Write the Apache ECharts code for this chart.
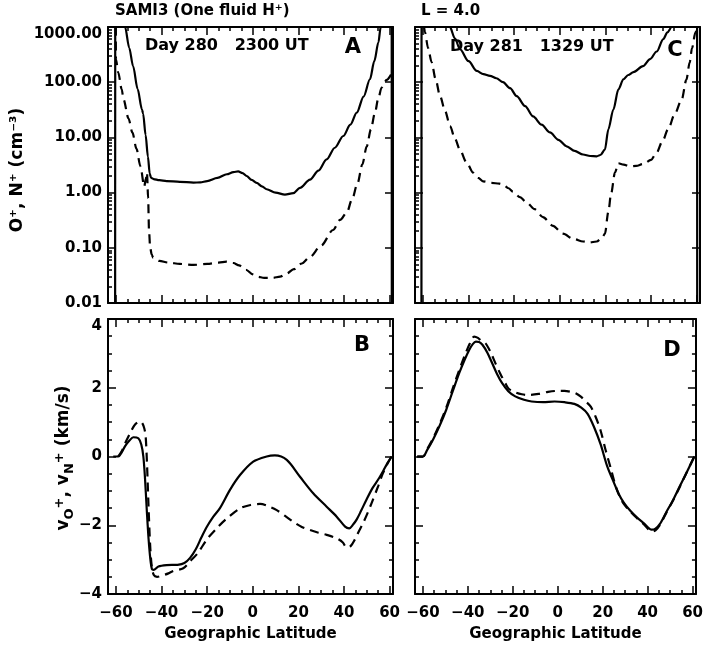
<!DOCTYPE html>
<html>
<head>
<meta charset="utf-8">
<script src="https://cdn.jsdelivr.net/npm/echarts@6/dist/echarts.min.js"></script>
<style>
  html, body { margin: 0; padding: 0; background: #fff; }
  #chart { width: 706px; height: 648px; }
</style>
</head>
<body>
<div id="chart"></div>
<script>
// [latitude, value] samples
// A: densities, day 280 (solid O+, dashed N+)
const densA_O = [[-60.4, 1e-6], [-60.3, 1e6], [-56.0, 1000], [-54.2, 420], [-52.5, 196], [-50.5, 75], [-48.6, 32], [-48.1, 27],
  [-47.0, 11], [-46.0, 4.5], [-45.2, 2.2], [-44.6, 1.85], [-43.5, 1.76], [-41.0, 1.68], [-37.8, 1.62], [-32.0, 1.57],
  [-26.0, 1.52], [-23.0, 1.53], [-20.0, 1.62], [-15.5, 1.85], [-11.4, 2.15], [-8.5, 2.35], [-6.4, 2.42], [-4.5, 2.25],
  [-2.7, 2.0], [-0.5, 1.7], [1.7, 1.5], [4.0, 1.3], [6.1, 1.15], [10.0, 1.0], [14.1, 0.92], [17.8, 0.98], [20.7, 1.22],
  [25.1, 1.72], [28.8, 2.5], [32.4, 4.0], [36.0, 6.5], [39.7, 10.6], [42.8, 17], [45.6, 28], [48.6, 55], [51.4, 113],
  [53.3, 240], [55.1, 525], [56.1, 1000], [60.9, 1e6], [61.0, 1e-6]];
const densA_N = [[-60.4, 1e6], [-60.0, 260], [-59.0, 150], [-57.5, 75], [-56.7, 49], [-54.5, 22], [-52.8, 12.3], [-51.0, 6.2],
  [-49.3, 3.0], [-47.6, 1.29], [-46.9, 1.8], [-46.4, 2.3], [-45.9, 0.8], [-45.5, 0.2], [-45.0, 0.1], [-44.3, 0.075],
  [-43.7, 0.066], [-41.0, 0.058], [-37.0, 0.054], [-32.0, 0.051], [-26.0, 0.049], [-20.0, 0.051], [-15.0, 0.054],
  [-11.5, 0.056], [-8.5, 0.053], [-6.0, 0.048], [-3.0, 0.040], [0.0, 0.033], [2.0, 0.030], [5.0, 0.0285], [8.7, 0.0285],
  [12.0, 0.030], [14.8, 0.034], [18.0, 0.041], [21.5, 0.052], [25.0, 0.068], [30.0, 0.11], [35.2, 0.21], [38.3, 0.32],
  [41.3, 0.44], [43.5, 0.75], [46.0, 1.5], [48.0, 3.2], [50.0, 6.9], [51.8, 14], [53.6, 28], [55.0, 50], [56.5, 80],
  [58.7, 110], [61.5, 160]];
// C: densities, day 281
const densC_O = [[-60.7, 1e-6], [-60.6, 1e6], [-48.2, 1000], [-46.0, 620], [-43.8, 398], [-40.0, 240], [-36.4, 160],
  [-33.5, 140], [-30.6, 130], [-27.8, 118], [-24.9, 100], [-21.8, 78], [-18.9, 56], [-15.2, 37], [-11.7, 24], [-8.0, 17],
  [-4.3, 12.3], [-0.6, 9.0], [3.0, 6.9], [6.5, 5.7], [10.2, 4.9], [13.3, 4.6], [16.2, 4.55], [17.8, 4.8], [19.8, 6.0],
  [21.3, 14], [23.5, 32], [25.7, 74], [27.9, 113], [30.0, 135], [32.3, 152], [36.5, 195], [39.6, 262], [42.5, 360],
  [45.4, 605], [47.2, 800], [49.1, 1000], [60.2, 1e6], [60.3, 1e-6]];
const densC_N = [[-60.2, 2000], [-59.1, 800], [-57.8, 420], [-56.2, 230], [-54.5, 115], [-52.5, 56], [-50.3, 30], [-48.1, 16],
  [-46.0, 9.5], [-43.8, 6.0], [-41.0, 3.6], [-38.0, 2.3], [-35.8, 1.85], [-33.7, 1.6], [-30.0, 1.5], [-26.5, 1.45],
  [-24.9, 1.4], [-22.5, 1.2], [-20.5, 1.04], [-17.5, 0.83], [-14.5, 0.66], [-11.0, 0.5], [-7.4, 0.36], [-3.0, 0.25],
  [1.4, 0.18], [6.0, 0.145], [10.2, 0.13], [13.0, 0.125], [16.2, 0.13], [18.5, 0.15], [19.8, 0.18], [21.3, 0.45],
  [22.5, 0.95], [24.2, 2.3], [25.7, 3.4], [28.0, 3.2], [30.8, 3.0], [33.5, 3.05], [36.6, 3.3], [40.0, 3.9], [42.5, 5.3],
  [45.0, 8.5], [47.5, 14], [50.5, 27], [53.5, 49], [55.5, 110], [57.0, 230], [58.0, 415], [59.5, 800], [61.3, 1500]];
// B: field-aligned velocities, day 280
const velB_O = [[-61.2, 0], [-59.0, 0], [-57.5, 0.12], [-56.0, 0.3], [-54.0, 0.47], [-52.4, 0.56], [-50.2, 0.53], [-48.9, 0.35],
  [-48.0, 0.0], [-47.3, -0.6], [-46.5, -1.55], [-45.7, -2.4], [-44.9, -3.0], [-44.2, -3.28], [-43.5, -3.3], [-41.4, -3.2],
  [-37.8, -3.16], [-33.0, -3.15], [-30.0, -3.1], [-27.5, -2.95], [-25.0, -2.7], [-22.5, -2.35], [-20.2, -2.05],
  [-17.3, -1.75], [-14.4, -1.5], [-10.0, -0.97], [-5.6, -0.54], [0.2, -0.15], [6.1, 0.0], [9.7, 0.03], [14.9, -0.1],
  [20.7, -0.59], [26.5, -1.07], [32.4, -1.46], [36.8, -1.75], [40.5, -2.04], [42.3, -2.09], [44.0, -1.98], [45.6, -1.83],
  [47.5, -1.58], [49.9, -1.25], [52.5, -0.92], [55.0, -0.67], [57.2, -0.42], [59.0, -0.2], [60.9, 0.0]];
const velB_N = [[-59.0, 0], [-57.5, 0.15], [-56.0, 0.38], [-54.0, 0.65], [-52.0, 0.9], [-50.5, 1.0], [-49.3, 1.02], [-48.3, 0.95],
  [-47.6, 0.82], [-47.0, 0.6], [-46.4, -0.2], [-45.7, -1.5], [-45.0, -2.6], [-44.3, -3.2], [-43.4, -3.45], [-42.0, -3.5],
  [-40.0, -3.47], [-37.0, -3.4], [-34.9, -3.33], [-30.5, -3.25], [-27.5, -3.05], [-24.0, -2.8], [-20.0, -2.4],
  [-16.0, -2.1], [-12.2, -1.85], [-5.6, -1.51], [-1.0, -1.41], [3.2, -1.38], [7.0, -1.45], [10.5, -1.56], [14.0, -1.72],
  [17.8, -1.9], [21.5, -2.05], [25.1, -2.14], [28.8, -2.22], [32.4, -2.28], [36.8, -2.38], [39.5, -2.5], [41.2, -2.65],
  [43.0, -2.6], [44.8, -2.41], [46.5, -2.18], [48.5, -1.92], [50.5, -1.62], [52.2, -1.34], [55.0, -0.86], [57.0, -0.5],
  [59.0, -0.22], [60.9, 0.0]];
// D: field-aligned velocities, day 281
const velD_O = [[-62.5, 0], [-60.0, 0], [-58.0, 0.2], [-55.5, 0.49], [-52.5, 0.9], [-49.6, 1.36], [-46.7, 1.9], [-43.8, 2.43],
  [-41.5, 2.8], [-39.4, 3.1], [-37.8, 3.27], [-36.4, 3.34], [-35.0, 3.33], [-33.5, 3.25], [-31.3, 3.02], [-29.2, 2.72],
  [-27.0, 2.4], [-24.8, 2.14], [-22.0, 1.9], [-18.9, 1.75], [-15.0, 1.65], [-11.6, 1.6], [-6.5, 1.58], [-1.4, 1.6],
  [3.0, 1.58], [7.4, 1.53], [10.5, 1.42], [13.3, 1.24], [16.2, 0.85], [19.1, 0.35], [22.0, -0.28], [25.0, -0.76],
  [27.2, -1.1], [29.4, -1.34], [32.3, -1.58], [35.2, -1.77], [38.5, -1.95], [41.8, -2.13], [43.5, -2.1], [45.4, -1.97],
  [48.3, -1.62], [51.3, -1.27], [54.2, -0.88], [57.1, -0.5], [60.8, 0.0]];
const velD_N = [[-62.5, 0], [-60.0, 0], [-58.0, 0.22], [-55.5, 0.52], [-52.5, 0.95], [-49.6, 1.42], [-46.7, 1.98], [-43.8, 2.52],
  [-41.0, 3.0], [-39.0, 3.3], [-37.2, 3.49], [-35.5, 3.45], [-34.0, 3.36], [-32.1, 3.29], [-30.0, 3.05], [-27.7, 2.71],
  [-25.5, 2.4], [-23.3, 2.13], [-21.8, 1.97], [-19.0, 1.87], [-16.0, 1.81], [-13.1, 1.79], [-8.5, 1.82], [-4.3, 1.88],
  [0.0, 1.91], [3.0, 1.91], [6.0, 1.88], [8.0, 1.84], [10.3, 1.74], [12.5, 1.6], [14.7, 1.45], [16.9, 1.15], [19.1, 0.75],
  [21.3, 0.19], [23.5, -0.32], [25.5, -0.8], [27.5, -1.15], [29.4, -1.38], [32.3, -1.6], [35.2, -1.79], [38.5, -1.98],
  [41.8, -2.18], [43.5, -2.15], [45.4, -2.0], [48.3, -1.64], [51.3, -1.28], [54.2, -0.9], [57.1, -0.5], [60.8, 0.0]];

const latTicks = [-60, -40, -20, 0, 20, 40, 60];
const latMinorTicks = [-60, -55, -50, -45, -40, -35, -30, -25, -20, -15, -10, -5, 0, 5, 10, 15, 20, 25, 30, 35, 40, 45, 50, 55, 60];
const densDecades = [0.01, 0.1, 1, 10, 100];
const densMinorTicks = [];
densDecades.forEach(d => { for (let k = 2; k <= 9; k++) densMinorTicks.push(Math.log10(d * k)); });

const FONT = 'DejaVu Sans';
const INK = '#000';
const latMin = -63.5, latMax = 61.5;

const axisInk = { color: INK, width: 2 };
const tickInk = { color: INK, width: 1.5 };
const labelFont = { color: INK, fontFamily: FONT, fontSize: 15, fontWeight: 'bold' };
const signed = v => (v < 0 ? '\u2212' + Math.abs(v) : String(v));

function latAxes(gi, labelled) {
  const common = { gridIndex: gi, type: 'value', min: latMin, max: latMax, splitLine: { show: false } };
  const major = { show: true, customValues: latTicks, inside: true, length: 8, lineStyle: tickInk };
  const minor = { show: true, customValues: latMinorTicks, inside: true, length: 4, lineStyle: tickInk };
  return [
    Object.assign({}, common, {
      position: 'bottom',
      axisLine: { show: true, onZero: false, lineStyle: axisInk },
      axisTick: major,
      axisLabel: labelled ? Object.assign({ customValues: latTicks, margin: 12, formatter: signed }, labelFont) : { show: false },
      name: labelled ? 'Geographic Latitude' : '',
      nameLocation: 'middle',
      nameGap: 33,
      nameTextStyle: labelFont
    }),
    Object.assign({}, common, { position: 'bottom', axisLine: { show: false, onZero: false }, axisTick: minor, axisLabel: { show: false } }),
    Object.assign({}, common, { position: 'top', axisLine: { show: true, onZero: false, lineStyle: axisInk }, axisTick: major, axisLabel: { show: false } }),
    Object.assign({}, common, { position: 'top', axisLine: { show: false, onZero: false }, axisTick: minor, axisLabel: { show: false } })
  ];
}

function densAxes(gi, labelled) {
  const common = { gridIndex: gi, splitLine: { show: false } };
  return [
    Object.assign({}, common, {
      type: 'log', logBase: 10, min: 0.01, max: 1000, position: 'left',
      axisLine: { show: true, onZero: false, lineStyle: axisInk },
      axisTick: { show: true, inside: true, length: 8, lineStyle: tickInk },
      axisLabel: labelled ? Object.assign({
        margin: 6, formatter: v => Number(v).toFixed(2),
        showMinLabel: true, showMaxLabel: true, verticalAlignMaxLabel: 'top'
      }, labelFont) : { show: false }
    }),
    Object.assign({}, common, {
      type: 'value', min: -2, max: 3, position: 'left',
      axisLine: { show: false, onZero: false },
      axisTick: { show: true, customValues: densMinorTicks, inside: true, length: 4, lineStyle: tickInk },
      axisLabel: { show: false }
    }),
    Object.assign({}, common, {
      type: 'log', logBase: 10, min: 0.01, max: 1000, position: 'right',
      axisLine: { show: true, onZero: false, lineStyle: axisInk },
      axisTick: { show: true, inside: true, length: 8, lineStyle: tickInk },
      axisLabel: { show: false }
    })
  ];
}

function speedAxes(gi, labelled) {
  const common = {
    gridIndex: gi, type: 'value', min: -4, max: 4, interval: 2, splitLine: { show: false },
    axisTick: { show: true, inside: true, length: 8, lineStyle: tickInk },
    minorTick: { show: true, splitNumber: 4, length: 4, lineStyle: tickInk }
  };
  return [
    Object.assign({}, common, {
      position: 'left',
      axisLine: { show: true, onZero: false, lineStyle: axisInk },
      axisLabel: labelled ? Object.assign({
        margin: 6, formatter: signed, showMinLabel: true, showMaxLabel: true,
        verticalAlignMaxLabel: 'top'
      }, labelFont) : { show: false }
    }),
    Object.assign({}, common, {
      position: 'right',
      axisLine: { show: true, onZero: false, lineStyle: axisInk },
      axisLabel: { show: false }
    })
  ];
}

// top panels have near-vertical drops, so keep the smoothing monotone in x there
function curve(xi, yi, data, dashed, monotone) {
  return {
    type: 'line', xAxisIndex: xi, yAxisIndex: yi, data: data,
    symbol: 'none', smooth: 0.3, smoothMonotone: monotone ? 'x' : null, clip: true, silent: true,
    lineStyle: { color: INK, width: 2.2, type: dashed ? [9, 6] : 'solid' }
  };
}

const txt = (size, weight) => ({ fill: INK, fontFamily: FONT, fontSize: size, fontWeight: weight || 'bold', verticalAlign: 'middle' });

const chart = echarts.init(document.getElementById('chart'));
chart.setOption({
  animation: false,
  backgroundColor: '#fff',
  textStyle: { fontFamily: FONT },
  grid: [
    { left: 108, top: 27, width: 285, height: 276 },
    { left: 415, top: 27, width: 285, height: 276 },
    { left: 108, top: 319, width: 285, height: 275 },
    { left: 415, top: 319, width: 285, height: 275 }
  ],
  xAxis: [].concat(latAxes(0, false), latAxes(1, false), latAxes(2, true), latAxes(3, true)),
  yAxis: [].concat(densAxes(0, true), densAxes(1, false), speedAxes(2, true), speedAxes(3, false)),
  series: [
    curve(0, 0, densA_O, false, true), curve(0, 0, densA_N, true, true),
    curve(4, 3, densC_O, false, true), curve(4, 3, densC_N, true, true),
    curve(8, 6, velB_O, false, false), curve(8, 6, velB_N, true, false),
    curve(12, 8, velD_O, false, false), curve(12, 8, velD_N, true, false)
  ],
  graphic: [
    { type: 'text', x: 115, y: 11, style: Object.assign(txt(15), { text: 'SAMI3 (One fluid H\u207A)', align: 'left' }) },
    { type: 'text', x: 421, y: 11, style: Object.assign(txt(15), { text: 'L = 4.0', align: 'left' }) },
    { type: 'text', x: 145, y: 46, style: Object.assign(txt(16), { text: 'Day 280   2300 UT', align: 'left' }) },
    { type: 'text', x: 450, y: 47, style: Object.assign(txt(16), { text: 'Day 281   1329 UT', align: 'left' }) },
    { type: 'text', x: 353, y: 48, style: Object.assign(txt(21), { text: 'A', align: 'center' }) },
    { type: 'text', x: 675, y: 51, style: Object.assign(txt(21), { text: 'C', align: 'center' }) },
    { type: 'text', x: 362, y: 346, style: Object.assign(txt(21), { text: 'B', align: 'center' }) },
    { type: 'text', x: 672, y: 351, style: Object.assign(txt(21), { text: 'D', align: 'center' }) },
    { type: 'text', x: 18, y: 170, rotation: Math.PI / 2,
      style: Object.assign(txt(17), { text: 'O\u207A, N\u207A (cm\u207B\u00B3)', align: 'center' }) },
    { type: 'text', x: 64, y: 458, rotation: Math.PI / 2,
      style: Object.assign(txt(17), {
        text: 'v{sub|O}{sup|+}, v{sub|N}{sup|+} (km/s)', align: 'center',
        rich: {
          sub: { fill: INK, fontFamily: FONT, fontWeight: 'bold', fontSize: 13, padding: [12, 0, 0, 0] },
          sup: { fill: INK, fontFamily: FONT, fontWeight: 'bold', fontSize: 13, padding: [0, 0, 9, 0] }
        }
      }) }
  ]
});
</script>
</body>
</html>
